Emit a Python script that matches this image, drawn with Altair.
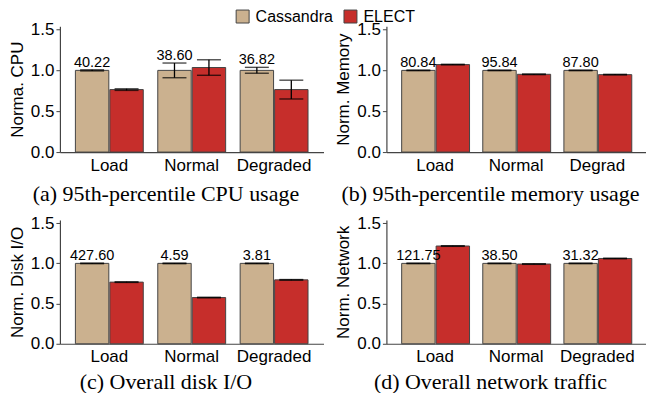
import altair as alt
import pandas as pd

categories = ["Load", "Normal", "Degraded"]
series = ["Cassandra", "ELECT"]
colors = ["#CBB18F", "#C62E2B"]

# (a) CPU
cpu_cass = [1.0, 1.0, 1.0]
cpu_cass_lo = [0.993, 0.91, 0.965]
cpu_cass_hi = [1.007, 1.09, 1.037]
cpu_elect = [0.765, 1.035, 0.765]
cpu_elect_lo = [0.755, 0.94, 0.65]
cpu_elect_hi = [0.775, 1.13, 0.88]
cpu_labels = ["40.22", "38.60", "36.82"]

# (b) Memory
mem_cass = [1.0, 1.0, 1.0]
mem_elect = [1.071, 0.952, 0.948]
mem_labels = ["80.84", "95.84", "87.80"]

# (c) Disk I/O
disk_cass = [1.0, 1.0, 1.0]
disk_elect = [0.767, 0.575, 0.795]
disk_labels = ["427.60", "4.59", "3.81"]

# (d) Network
net_cass = [1.0, 1.0, 1.0]
net_elect = [1.216, 0.992, 1.061]
net_labels = ["121.75", "38.50", "31.32"]

SANS = "Liberation Sans"
SERIF = "Liberation Serif"


def make_df(cass, elect, labels, cass_lo=None, cass_hi=None, elect_lo=None, elect_hi=None, err=0.004):
    rows = []
    for i, c in enumerate(categories):
        rows.append(dict(category=c, series="Cassandra", value=cass[i],
                         lo=cass_lo[i] if cass_lo else cass[i] - err,
                         hi=cass_hi[i] if cass_hi else cass[i] + err,
                         label=labels[i]))
        rows.append(dict(category=c, series="ELECT", value=elect[i],
                         lo=elect_lo[i] if elect_lo else elect[i] - err,
                         hi=elect_hi[i] if elect_hi else elect[i] + err,
                         label=""))
    return pd.DataFrame(rows)


def panel(df, ytitle, caption, w, h, label_expr=None, cap_offset=11):
    xaxis = dict(title=None, labelAngle=0, ticks=False, labelFontSize=17, labelFont=SANS,
                 labelColor="black", labelPadding=5, domainColor="#444", domainWidth=1.2)
    if label_expr:
        xaxis["labelExpr"] = label_expr
    x = alt.X("category:N", sort=categories,
              scale=alt.Scale(paddingInner=0.176, paddingOuter=0.188),
              axis=alt.Axis(**xaxis))
    xo = alt.XOffset("series:N", sort=series, scale=alt.Scale(paddingInner=0.03))
    yscale = alt.Scale(domain=[0, 1.54], nice=False)
    y = alt.Y("value:Q", scale=yscale,
              axis=alt.Axis(values=[0, 0.5, 1.0, 1.5], format=".1f", title=ytitle, grid=False,
                            labelFontSize=17, labelFont=SANS, labelColor="black",
                            titleFontSize=17, titleFont=SANS, titleFontWeight="normal",
                            titleColor="black", tickSize=4, tickColor="#444",
                            domainColor="#444", domainWidth=1.2, labelPadding=2,
                            titlePadding=4))
    base = alt.Chart(df)
    bars = base.mark_bar(stroke="#444", strokeWidth=1).encode(
        x=x, xOffset=xo, y=y,
        color=alt.Color("series:N", sort=series,
                        scale=alt.Scale(domain=series, range=colors),
                        legend=alt.Legend(title=None, orient="none", direction="horizontal",
                                          legendX=175, legendY=-18)))
    rule = base.mark_rule(color="black", strokeWidth=1.3).encode(
        x=x, xOffset=xo, y=alt.Y("lo:Q", scale=yscale), y2="hi:Q")
    cap_lo = base.mark_tick(color="black", size=24, thickness=1.4).encode(
        x=x, xOffset=xo, y=alt.Y("lo:Q", scale=yscale))
    cap_hi = base.mark_tick(color="black", size=24, thickness=1.4).encode(
        x=x, xOffset=xo, y=alt.Y("hi:Q", scale=yscale))
    text = base.transform_filter(alt.datum.series == "Cassandra").mark_text(
        font=SANS, fontSize=14.5, baseline="alphabetic", dy=-3, color="black").encode(
        x=x, xOffset=xo, y=alt.Y("hi:Q", scale=yscale), text="label:N")
    return alt.layer(bars, rule, cap_lo, cap_hi, text).properties(
        width=w, height=h,
        title=alt.TitleParams(caption, orient="bottom", font=SERIF, fontSize=22,
                              fontWeight="normal", color="black", anchor="middle",
                              frame="bounds", offset=cap_offset))


a = panel(make_df(cpu_cass, cpu_elect, cpu_labels, cpu_cass_lo, cpu_cass_hi, cpu_elect_lo, cpu_elect_hi),
          "Norma. CPU", "(a) 95th-percentile CPU usage", 264, 126)
b = panel(make_df(mem_cass, mem_elect, mem_labels),
          "Norm. Memory", "(b) 95th-percentile memory usage", 260, 126,
          label_expr="datum.value == 'Degraded' ? 'Degrad' : datum.value")
c = panel(make_df(disk_cass, disk_elect, disk_labels),
          "Norm. Disk I/O", "(c) Overall disk I/O", 264, 124, cap_offset=7)
d = panel(make_df(net_cass, net_elect, net_labels),
          "Norm. Network", "(d) Overall network traffic", 260, 124, cap_offset=7)

chart = alt.vconcat(
    alt.hconcat(a, b, spacing=11),
    alt.hconcat(c, d, spacing=11),
    spacing=9,
).properties(padding={"left": 0, "top": 0, "right": 0, "bottom": 0}).configure_view(
    stroke=None).configure_legend(
    labelFont=SANS, labelFontSize=16, labelColor="black", symbolType="square",
    symbolSize=169, symbolStrokeColor="#444", symbolStrokeWidth=1, symbolOpacity=1,
    columnPadding=8, labelOffset=5,
)

chart.save("out.html", embed_options={"renderer": "svg", "actions": False})
